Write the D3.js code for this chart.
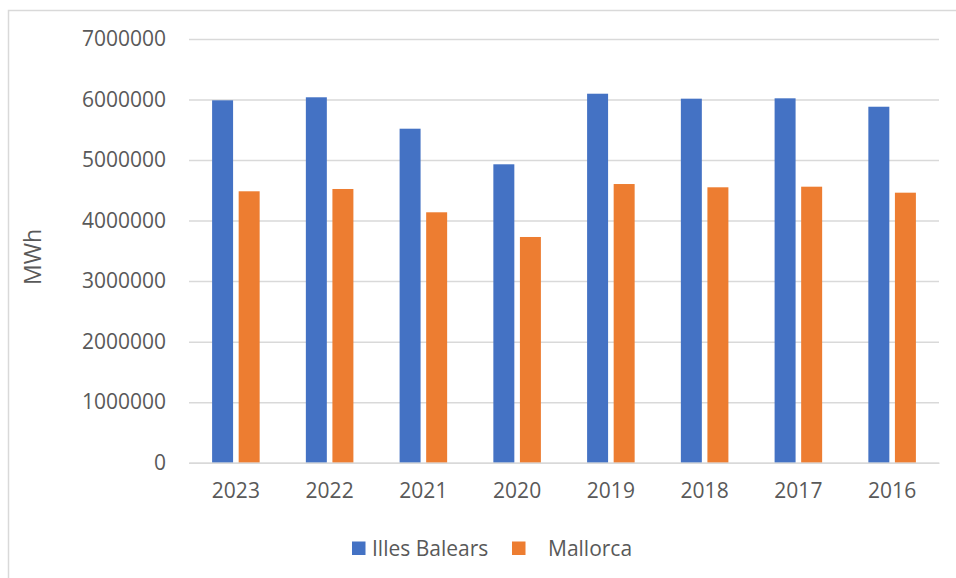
<!DOCTYPE html>
<html><head><meta charset="utf-8">
<script src="https://cdn.jsdelivr.net/npm/d3@7"></script>
<style>
html,body{margin:0;padding:0;background:#fff;}
svg{display:block;}
text{font-family:"Open Sans","Noto Sans",sans-serif;fill:#595959;}
</style></head>
<body>
<script>
const categories = ["2023","2022","2021","2020","2019","2018","2017","2016"];
const seriesNames = ["Illes Balears","Mallorca"];
const illesBalears = [5987000, 6037000, 5518000, 4930000, 6096000, 6014000, 6020000, 5881000];
const mallorca = [4484000, 4522000, 4137000, 3729000, 4604000, 4550000, 4560000, 4461000];
const yTicks = [0,1000000,2000000,3000000,4000000,5000000,6000000,7000000];
const colors = ["#4472c4","#ed7d31"];
const yTitle = "MWh";

(function(){
const W = 956, H = 578;
const svg = d3.select("body").append("svg").attr("width", W).attr("height", H);

// outer frame
svg.append("rect").attr("x", 8.5).attr("y", 10.5).attr("width", 1000).attr("height", 1000)
  .attr("fill", "none").attr("stroke", "#d9d9d9").attr("stroke-width", 1.5);

const pLeft = 189, pRight = 939, pTop = 39, pBottom = 462.7;
const y = d3.scaleLinear().domain([0, 7000000]).range([pBottom, pTop]);
const x0 = d3.scaleBand().domain(categories).range([pLeft, pRight]).padding(0);
const x1 = d3.scaleBand().domain(seriesNames).range([23.1, x0.bandwidth() - 23.1]).paddingInner(0.21).paddingOuter(0);

// gridlines
const yAxis = d3.axisLeft(y).tickValues(yTicks).tickSize(-(pRight - pLeft)).tickFormat(d3.format("d")).tickPadding(23);
const gy = svg.append("g").attr("transform", `translate(${pLeft},0)`).call(yAxis);
gy.select(".domain").remove();
gy.selectAll(".tick line").attr("stroke", "#d9d9d9").attr("stroke-width", 1.5);
gy.selectAll(".tick text").attr("font-size", "21px").style("fill", "#595959");

// bars
const data = categories.map((c, i) => ({cat: c, vals: [illesBalears[i], mallorca[i]]}));
const groups = svg.append("g").selectAll("g").data(data).join("g")
  .attr("transform", d => `translate(${x0(d.cat)},0)`);
groups.selectAll("rect").data(d => d.vals.map((v, j) => ({name: seriesNames[j], v, j})))
  .join("rect")
  .attr("x", d => x1(d.name))
  .attr("width", x1.bandwidth())
  .attr("y", d => y(d.v))
  .attr("height", d => y(0) - y(d.v))
  .attr("fill", d => colors[d.j]);

// x axis
const xAxis = d3.axisBottom(x0).tickSize(0).tickPadding(20);
const gx = svg.append("g").attr("transform", `translate(0,${pBottom})`).call(xAxis);
gx.select(".domain").attr("stroke", "#d9d9d9").attr("stroke-width", 1.5);
gx.selectAll(".tick text").attr("font-size", "21px").style("fill", "#595959");

// y title
svg.append("text").attr("transform", "translate(41,257) rotate(-90)")
  .attr("text-anchor", "middle").attr("font-size", "23px").text(yTitle);

// legend
const legendPos = [{sx: 352, tx: 372}, {sx: 512, tx: 548}];
const lg = svg.append("g");
seriesNames.forEach((n, i) => {
  lg.append("rect").attr("x", legendPos[i].sx).attr("y", 541.5).attr("width", 13.5).attr("height", 13.5).attr("fill", colors[i]);
  lg.append("text").attr("x", legendPos[i].tx).attr("y", 555.5).attr("font-size", "21px").text(n);
});
})();
</script>
</body></html>
